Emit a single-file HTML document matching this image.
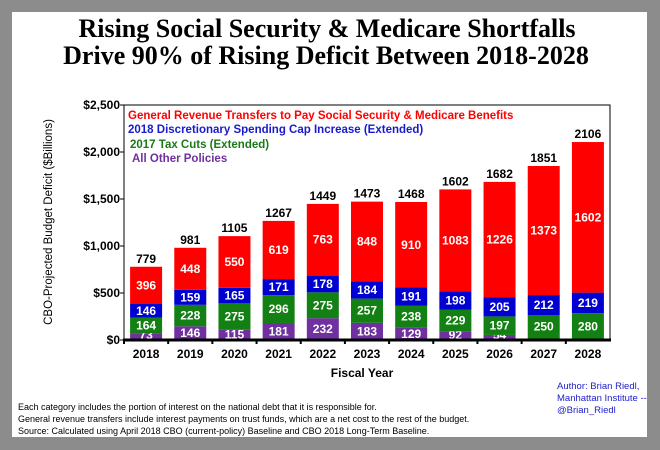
<!DOCTYPE html>
<html><head><meta charset="utf-8"><style>
body{margin:0;background:#8c8c8c;}
svg{display:block;font-family:"Liberation Sans",Arial,sans-serif;}
</style></head><body>
<svg id="chart" width="660" height="450">
<rect x="12" y="12" width="635" height="425" fill="#fff"/>
<text x="327" y="37" text-anchor="middle" font-family="Liberation Serif,serif" font-weight="bold" font-size="26">Rising Social Security &amp; Medicare Shortfalls</text>
<text x="326" y="64" text-anchor="middle" font-family="Liberation Serif,serif" font-weight="bold" font-size="26">Drive 90% of  Rising Deficit Between 2018-2028</text>
<g id="plot"></g>
<text x="128" y="119" font-size="11.5" font-weight="bold" fill="#ff0000">General Revenue Transfers to Pay Social Security &amp; Medicare Benefits</text>
<text x="128" y="133" font-size="11.5" font-weight="bold" fill="#1a1acc">2018 Discretionary Spending Cap Increase (Extended)</text>
<text x="130" y="148" font-size="11.5" font-weight="bold" fill="#1a7a1a">2017 Tax Cuts (Extended)</text>
<text x="132" y="162" font-size="11.5" font-weight="bold" fill="#7030a0">All Other Policies</text>
<text transform="translate(52,222) rotate(-90)" text-anchor="middle" font-size="11.5">CBO-Projected Budget Deficit ($Billions)</text>
<text x="362" y="377" text-anchor="middle" font-size="12" font-weight="bold">Fiscal Year</text>
<g font-size="9">
<text x="18" y="410">Each category includes the portion of interest on the national debt that it is responsible for.</text>
<text x="18" y="422">General revenue transfers include interest payments on trust funds, which are a net cost to the rest of the budget.</text>
<text x="18" y="434">Source: Calculated using April 2018 CBO (current-policy) Baseline and CBO 2018 Long-Term Baseline.</text>
</g>
<g font-size="9.5" fill="#2020cc">
<text x="557" y="389">Author: Brian Riedl,</text>
<text x="557" y="401">Manhattan Institute --</text>
<text x="557" y="413">@Brian_Riedl</text>
</g>
</svg>
<script>
const years=["2018","2019","2020","2021","2022","2023","2024","2025","2026","2027","2028"];
const other=[73,146,115,181,232,183,129,92,54,16,5];
const taxCuts=[164,228,275,296,275,257,238,229,197,250,280];
const discretionary=[146,159,165,171,178,184,191,198,205,212,219];
const transfers=[396,448,550,619,763,848,910,1083,1226,1373,1602];
const totals=[779,981,1105,1267,1449,1473,1468,1602,1682,1851,2106];
const yTicks=[0,500,1000,1500,2000,2500];
const yTickLabels=["$0","$500","$1,000","$1,500","$2,000","$2,500"];

const NS="http://www.w3.org/2000/svg";
const g=document.getElementById('plot');
const X0=124,X1=610,Y0=340,Y1=105,YMAX=2500;
const step=(X1-X0)/years.length, bw=32;
const y=v=>Y0-(v/YMAX)*(Y0-Y1);
const xc=i=>X0+step*(i+0.5);
function mk(tag,a,parent){const e=document.createElementNS(NS,tag);for(const k in a)e.setAttribute(k,a[k]);(parent||g).appendChild(e);return e;}

let fr=mk('rect',{x:X0,y:Y1,width:X1-X0,height:Y0-Y1,fill:'none',stroke:'#000','stroke-width':1});


yTicks.forEach((t,i)=>{
  let tl=mk('text',{x:X0-4,y:y(t)+4,'text-anchor':'end','font-size':12,'font-weight':'bold'});
  tl.textContent=yTickLabels[i];
  
  
  mk('line',{x1:X0-4,x2:X0,y1:y(t),y2:y(t),stroke:'#000'});
});
const series=[[other,'#7030a0','other'],[taxCuts,'#138013','tax-cuts'],[discretionary,'#0000d0','discretionary'],[transfers,'#ff0000','transfers']];
years.forEach((yr,i)=>{
  let base=0;
  series.forEach(([arr,col,nm])=>{
    const v=arr[i];
    let r=mk('rect',{x:xc(i)-bw/2,y:y(base+v),width:bw,height:y(base)-y(base+v),fill:col});
    
    
    let ty=(y(base)+y(base+v))/2+4;
    if(ty>Y0-1)ty=Y0-1;
    let t=mk('text',{x:xc(i),y:ty,'text-anchor':'middle','font-size':12,'font-weight':'bold',fill:'#fff'});
    t.textContent=v;
    
    
    base+=v;
  });
  let tt=mk('text',{x:xc(i),y:y(base)-4,'text-anchor':'middle','font-size':12,'font-weight':'bold'});
  tt.textContent=totals[i];
  
  
  let xl=mk('text',{x:xc(i),y:Y0+18,'text-anchor':'middle','font-size':12,'font-weight':'bold'});
  xl.textContent=yr;
  
  
  mk('line',{x1:X0+step*i,x2:X0+step*i,y1:Y0,y2:Y0+4,stroke:'#000','stroke-width':2});
});
let ax=mk('line',{x1:X0-1,x2:X1+1,y1:Y0,y2:Y0,stroke:'#000','stroke-width':3});


</script>
</body></html>
